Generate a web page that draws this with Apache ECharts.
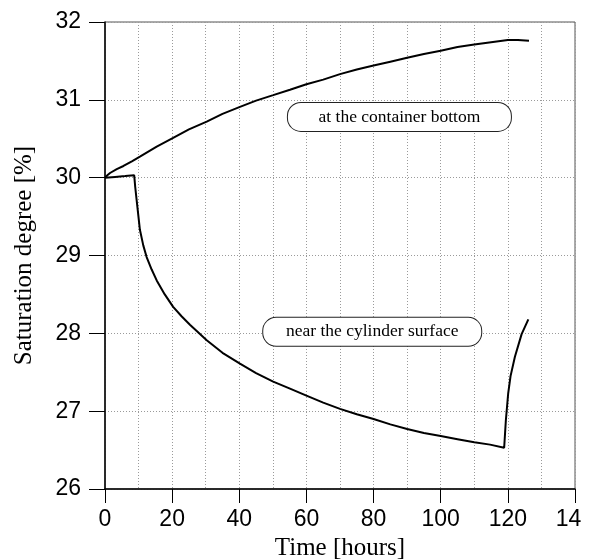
<!DOCTYPE html>
<html>
<head>
<meta charset="utf-8">
<script src="https://cdn.jsdelivr.net/npm/echarts@6/dist/echarts.min.js"></script>
<style>
  html, body { margin: 0; padding: 0; background: #fff; width: 590px; height: 559px; overflow: hidden; }
  #chart { width: 581px; height: 559px; }
</style>
</head>
<body>
<div id="chart"></div>
<script>
// Saturation degree over time at two positions in the container
const timeTicks = [0, 20, 40, 60, 80, 100, 120, 140];
const satTicks = [26, 27, 28, 29, 30, 31, 32];

// [time in hours, saturation in %] at the container bottom
const bottomSeries = [
  [0, 30.00], [0.7, 30.03], [1.5, 30.06], [3.5, 30.11], [5.5, 30.15], [8, 30.21],
  [10.4, 30.27], [15.4, 30.40], [20.3, 30.51], [25, 30.62], [30.3, 30.72], [35, 30.82],
  [40.2, 30.91], [45, 30.99], [50.1, 31.06], [55.1, 31.13], [60, 31.20], [65, 31.26],
  [70, 31.33], [75, 31.39], [80, 31.44], [85, 31.49], [90, 31.54], [95, 31.59],
  [100, 31.63], [105, 31.68], [110, 31.71], [115, 31.74], [120, 31.77], [123, 31.77],
  [126.3, 31.76]
];

// [time in hours, saturation in %] near the cylinder surface
const surfaceSeries = [
  [0, 30.00], [3, 30.01], [6, 30.02], [8.7, 30.03], [9.0, 29.88], [9.4, 29.72],
  [10.4, 29.33], [11.4, 29.13], [12.4, 28.98], [13.9, 28.82], [15.4, 28.68],
  [17.8, 28.50], [20.3, 28.34], [22.8, 28.22], [25.3, 28.11], [30.3, 27.91],
  [35, 27.75], [40.2, 27.61], [45, 27.49], [50.1, 27.38], [55.1, 27.29], [60, 27.20],
  [65, 27.11], [70, 27.03], [75, 26.96], [80, 26.90], [85, 26.83], [90, 26.77],
  [95, 26.72], [100, 26.68], [105, 26.64], [110, 26.60], [114.7, 26.57],
  [118.9, 26.53], [119.4, 26.88], [120.1, 27.23], [120.8, 27.45], [122.1, 27.70],
  [124.1, 27.99], [126.1, 28.18]
];

// Callout boxes: text and the data position of their centre
const bottomNote = { text: 'at the container bottom', at: [87.7, 30.78], w: 223 };
const surfaceNote = { text: 'near the cylinder surface', at: [79.6, 28.02], w: 218 };

const SERIF = "'Liberation Serif', 'Times New Roman', serif";
const SANS = "'Liberation Sans', Arial, sans-serif";

function note(n) {
  return {
    symbol: 'circle',
    symbolSize: 1,
    silent: true,
    animation: false,
    itemStyle: { color: 'rgba(0,0,0,0)' },
    data: [{
      coord: n.at,
      label: {
        show: true,
        position: 'inside',
        formatter: n.text,
        fontFamily: SERIF,
        fontSize: 17.5,
        color: '#000',
        backgroundColor: '#fff',
        borderColor: '#222',
        borderWidth: 1,
        borderRadius: 13,
        width: n.w,
        height: 28,
        lineHeight: 28,
        align: 'center',
        verticalAlign: 'middle',
        padding: 0
      }
    }]
  };
}

const gridLine = { color: '#9a9a9a', width: 1, type: [1, 2] };

const chart = echarts.init(document.getElementById('chart'), null, { renderer: 'canvas' });
chart.setOption({
  animation: false,
  backgroundColor: '#fff',
  grid: {
    left: 105, right: 6, top: 22, bottom: 70,
    outerBoundsMode: 'none',
    containLabel: false,
    show: true, borderColor: '#555', borderWidth: 1, backgroundColor: 'transparent'
  },
  xAxis: {
    type: 'value',
    min: timeTicks[0],
    max: timeTicks[timeTicks.length - 1],
    interval: timeTicks[1] - timeTicks[0],
    name: 'Time [hours]',
    nameLocation: 'middle',
    nameGap: 43,
    nameTextStyle: { fontFamily: SERIF, fontSize: 25, color: '#000' },
    axisLine: { show: true, onZero: false, lineStyle: { color: '#000', width: 1.5 } },
    axisTick: { show: true, inside: false, length: 14, lineStyle: { color: '#000', width: 1 } },
    axisLabel: { fontFamily: SANS, fontSize: 23, color: '#000', margin: 19, hideOverlap: false },
    splitLine: { show: true, lineStyle: gridLine },
    minorTick: { show: false, splitNumber: 2 },
    minorSplitLine: { show: true, lineStyle: gridLine }
  },
  yAxis: {
    type: 'value',
    min: satTicks[0],
    max: satTicks[satTicks.length - 1],
    interval: satTicks[1] - satTicks[0],
    name: 'Saturation degree [%]',
    nameLocation: 'middle',
    nameGap: 68,
    nameTextStyle: { fontFamily: SERIF, fontSize: 25, color: '#000' },
    axisLine: { show: true, onZero: false, lineStyle: { color: '#000', width: 1.5 } },
    axisTick: { show: true, inside: false, length: 16, lineStyle: { color: '#000', width: 1 } },
    axisLabel: { fontFamily: SANS, fontSize: 23, color: '#000', margin: 24 },
    splitLine: { show: true, lineStyle: gridLine }
  },
  series: [
    {
      name: 'at the container bottom',
      type: 'line',
      data: bottomSeries,
      showSymbol: false,
      lineStyle: { color: '#000', width: 2 },
      markPoint: note(bottomNote)
    },
    {
      name: 'near the cylinder surface',
      type: 'line',
      data: surfaceSeries,
      showSymbol: false,
      lineStyle: { color: '#000', width: 2 },
      markPoint: note(surfaceNote)
    }
  ]
});
</script>
</body>
</html>
